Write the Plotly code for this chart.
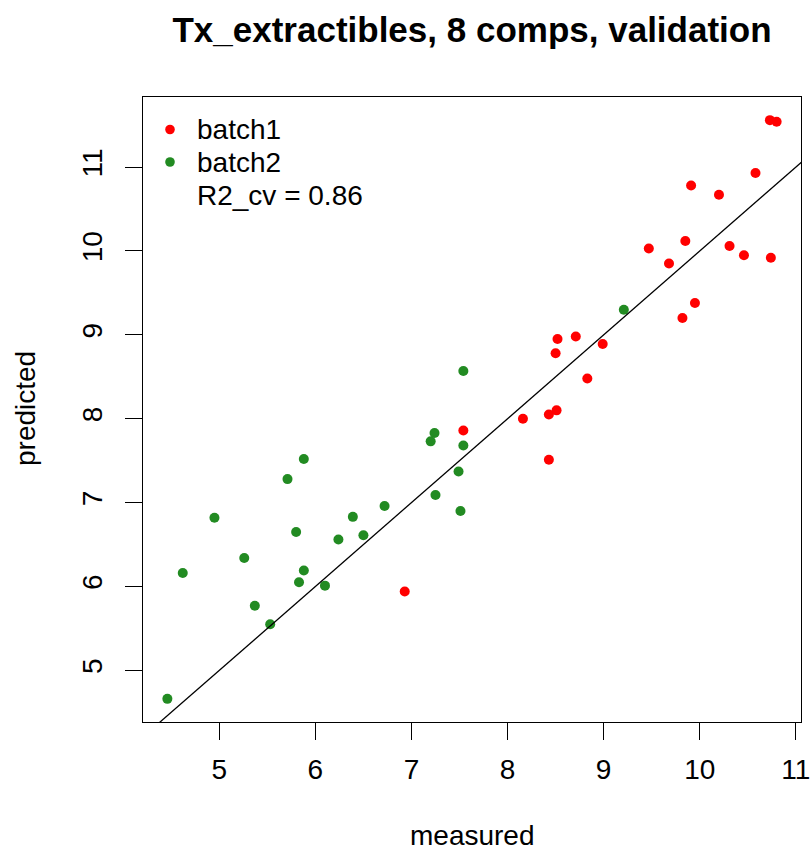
import plotly.graph_objects as go

# ---- data ----
batch1_measured = [10.73, 10.80, 10.58, 9.91, 10.20, 9.47, 9.85, 9.68, 10.31, 10.46,
                   10.74, 9.95, 9.82, 8.52, 8.71, 8.50, 8.99, 8.83, 8.16, 8.43,
                   8.51, 8.43, 7.54, 6.93]
batch1_predicted = [11.56, 11.54, 10.93, 10.78, 10.67, 10.03, 10.12, 9.85, 10.06, 9.95,
                    9.92, 9.38, 9.20, 8.95, 8.98, 8.78, 8.89, 8.48, 8.00, 8.05,
                    8.10, 7.51, 7.86, 5.94]
batch2_measured = [7.54, 9.21, 7.24, 7.20, 7.54, 5.88, 5.71, 7.49, 7.25, 7.51,
                   6.72, 6.39, 6.50, 6.24, 4.95, 5.80, 5.26, 4.62, 5.88, 5.83,
                   6.10, 5.37, 5.53, 4.46]
batch2_predicted = [8.57, 9.30, 7.83, 7.73, 7.68, 7.52, 7.28, 7.37, 7.09, 6.90,
                    6.96, 6.83, 6.61, 6.56, 6.82, 6.65, 6.34, 6.16, 6.19, 6.05,
                    6.01, 5.77, 5.55, 4.66]
series_names = ["batch1", "batch2"]
series_colors = ["#FF0000", "#228B22"]
r2_label = "R2_cv = 0.86"
title_text = "Tx_extractibles, 8 comps, validation"
x_ticks = [5, 6, 7, 8, 9, 10, 11]
y_ticks = [5, 6, 7, 8, 9, 10, 11]

# R-style axis ranges (data range + 4 %)
all_x = batch1_measured + batch2_measured
all_y = batch1_predicted + batch2_predicted
def r_range(v):
    lo, hi = min(v), max(v)
    pad = 0.04 * (hi - lo)
    return [lo - pad, hi + pad]
xr = r_range(all_x)
yr = r_range(all_y)

FONT = "Liberation Sans, Arial, sans-serif"
FS = 28
W, H = 812, 846
ML, MR, MT, MB = 143, 11, 97, 124
PW, PH = W - ML - MR, H - MT - MB

def py2paper(py):
    return (H - MB - py) / PH

def px2paper(px):
    return (px - ML) / PW

fig = go.Figure()
fig.add_trace(go.Scatter(x=batch1_measured, y=batch1_predicted, mode="markers",
                         name=series_names[0],
                         marker=dict(color=series_colors[0], size=10, line=dict(width=0))))
fig.add_trace(go.Scatter(x=batch2_measured, y=batch2_predicted, mode="markers",
                         name=series_names[1],
                         marker=dict(color=series_colors[1], size=10, line=dict(width=0))))
# identity line y = x
lo = min(xr[0], yr[0]) - 1
hi = max(xr[1], yr[1]) + 1
fig.add_trace(go.Scatter(x=[lo, hi], y=[lo, hi], mode="lines", showlegend=False,
                         line=dict(color="black", width=1.3), hoverinfo="skip"))

# ---- manual R-style legend (top-left inside the box) ----
legend_rows_y = [129.5, 162, 195]
legend_labels = series_names + [r2_label]
legend_colors = series_colors + [None]
shapes = []
annotations = []
for ly, lab, col in zip(legend_rows_y, legend_labels, legend_colors):
    if col is not None:
        shapes.append(dict(type="circle", xref="paper", yref="paper",
                           xsizemode="pixel", ysizemode="pixel",
                           xanchor=px2paper(170), yanchor=py2paper(ly),
                           x0=-4.8, x1=4.8, y0=-4.8, y1=4.8,
                           fillcolor=col, line=dict(width=0)))
    annotations.append(dict(text=lab, xref="paper", yref="paper",
                            x=px2paper(195), y=py2paper(ly), xanchor="left", yanchor="middle",
                            showarrow=False, font=dict(family=FONT, size=FS, color="black")))

annotations += [
    dict(text="measured", xref="paper", yref="paper",
         x=0.5, y=py2paper(836), xanchor="center", yanchor="middle",
         showarrow=False, font=dict(family=FONT, size=FS, color="black")),
    dict(text="predicted", xref="paper", yref="paper",
         x=px2paper(25), y=py2paper(409), xanchor="center", yanchor="middle",
         textangle=-90, showarrow=False, font=dict(family=FONT, size=FS, color="black")),
]

fig.update_layout(
    width=W, height=H,
    margin=dict(l=ML, r=MR, t=MT, b=MB, autoexpand=False),
    paper_bgcolor="white", plot_bgcolor="white",
    font=dict(family=FONT, color="black", size=FS),
    title=dict(text=title_text, x=0.5 * (ML + W - MR) / W, xanchor="center",
               y=1 - 30 / H, yanchor="middle",
               font=dict(family=FONT, size=35, weight="bold", color="black")),
    showlegend=False,
    xaxis=dict(range=xr, tickmode="array", tickvals=x_ticks, ticktext=[str(t) for t in x_ticks],
               showgrid=False, zeroline=False, showline=True, mirror=True, automargin=False,
               linecolor="black", linewidth=1, ticks="outside", ticklen=17, tickwidth=1,
               tickcolor="black", tickfont=dict(family=FONT, size=FS, color="black"),
               ticklabelstandoff=5),
    yaxis=dict(range=yr, tickmode="array", tickvals=y_ticks, ticktext=[str(t) for t in y_ticks],
               showgrid=False, zeroline=False, showline=True, mirror=True, automargin=False,
               linecolor="black", linewidth=1, ticks="outside", ticklen=17, tickwidth=1,
               tickcolor="black", tickangle=-90, tickfont=dict(family=FONT, size=FS, color="black"),
               ticklabelstandoff=12),
    shapes=shapes,
    annotations=annotations,
)

fig.write_html("out.html")
